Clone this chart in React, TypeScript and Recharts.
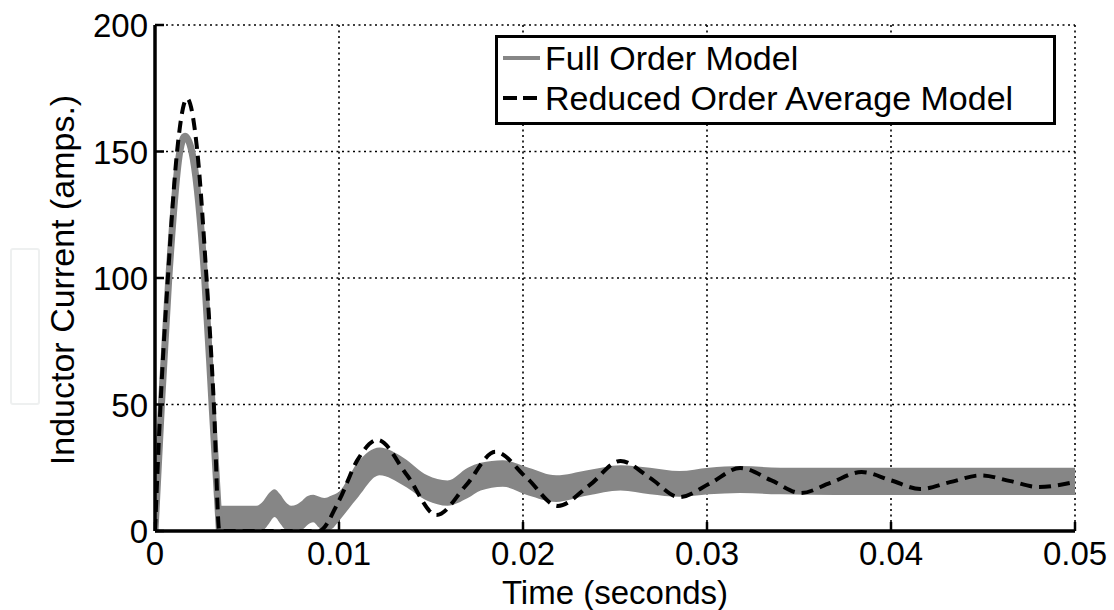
import {
  Area,
  CartesianGrid,
  ComposedChart,
  Line,
  XAxis,
  YAxis,
} from "recharts";

const FONT = '"Liberation Sans", Arial, Helvetica, sans-serif';

// axis ticks
const xTicks = [0, 0.01, 0.02, 0.03, 0.04, 0.05];
const xTickLabels = ["0", "0.01", "0.02", "0.03", "0.04", "0.05"];
const yTicks = [0, 50, 100, 150, 200];
const yTickLabels = ["0", "50", "100", "150", "200"];

// Reduced Order Average Model (dashed)
const reducedTime = [
  0, 0.0003, 0.0007, 0.0012, 0.00174, 0.0023, 0.0028, 0.0032, 0.0035, 0.0089,
  0.01, 0.011, 0.0121, 0.0137, 0.0153, 0.0169, 0.0185, 0.0202, 0.0219, 0.0236,
  0.0253, 0.0269, 0.0285, 0.0302, 0.0318, 0.0335, 0.0351, 0.0367, 0.0384, 0.04,
  0.0416, 0.0432, 0.0449, 0.0465, 0.048, 0.05,
];
const reducedCurrent = [
  0, 50, 100, 150, 171, 150, 100, 50, 0, 0,
  12, 28, 36, 22, 6.3, 18, 31.3, 21, 9.9, 18,
  27.7, 21, 13.4, 19, 24.9, 20, 15, 19, 23.3, 20,
  16.6, 19.3, 22, 19.7, 17.4, 19.4,
];

// Full Order Model, start-up spike (thick gray line)
const fullSpikeTime = [0, 0.00035, 0.00075, 0.00135, 0.00163, 0.002, 0.0027, 0.0031, 0.0035];
const fullSpikeCurrent = [0, 50, 100, 150, 156, 150, 100, 50, 0];

// Full Order Model, switching ripple envelope (gray band)
const fullBandTime = [
  0.0035, 0.0055, 0.0059, 0.0062, 0.0065, 0.0068, 0.0071, 0.0074, 0.0077, 0.008,
  0.0083, 0.0086, 0.0089, 0.0092, 0.0096, 0.01, 0.011, 0.0122, 0.0135, 0.0148,
  0.0159, 0.017, 0.0177, 0.0189, 0.0203, 0.0218, 0.0235, 0.0253, 0.0269, 0.0285,
  0.0301, 0.0318, 0.034, 0.037, 0.04, 0.045, 0.05,
];
const fullBandLow = [
  0, 0, 0.5, 3, 5.5, 3, 0.5, 0, 0, 0.5,
  2.5, 3.5, 1.5, 0, 0.8, 4, 13, 22, 18, 12,
  10, 13, 16, 17.5, 14, 11.5, 14, 16, 14.5, 13.5,
  14.5, 15, 14.5, 14.2, 14.2, 14.2, 14.2,
];
const fullBandHigh = [
  10, 10, 12, 15, 16.5, 14.5, 11.5, 10, 10.5, 12,
  13.8, 14.3, 13.6, 13, 14, 15.5, 27, 33, 29, 22,
  20, 25, 27, 28, 25, 22, 24, 26, 25, 23.7,
  25, 25.7, 25, 25, 25, 25, 25,
];

const reducedData = reducedTime.map((t, i) => ({ t, value: reducedCurrent[i] }));
const spikeData = fullSpikeTime.map((t, i) => ({ t, value: fullSpikeCurrent[i] }));
const bandData = fullBandTime.map((t, i) => ({
  t,
  range: [fullBandLow[i], fullBandHigh[i]],
}));

const GRAY = "#868686";
const AXIS = { stroke: "#000", strokeWidth: 3.5 };

const BottomTick = (props: any) => {
  const { x, y, index } = props;
  return (
    <g>
      <line x1={x} y1={y} x2={x} y2={y - 9} stroke="#000" strokeWidth={2.5} />
      <text x={x} y={y + 34} textAnchor="middle" fontSize={33} fontFamily={FONT} fill="#000">
        {xTickLabels[index]}
      </text>
    </g>
  );
};

const LeftTick = (props: any) => {
  const { x, y, index } = props;
  return (
    <g>
      <line x1={x} y1={y} x2={x + 9} y2={y} stroke="#000" strokeWidth={2.5} />
      <text x={x - 7} y={y + 12} textAnchor="end" fontSize={33} fontFamily={FONT} fill="#000">
        {yTickLabels[index]}
      </text>
    </g>
  );
};

const TopTick = (props: any) => (
  <line x1={props.x} y1={props.y} x2={props.x} y2={props.y + 9} stroke="#000" strokeWidth={2.5} />
);

const RightTick = (props: any) => (
  <line x1={props.x} y1={props.y} x2={props.x - 9} y2={props.y} stroke="#000" strokeWidth={2.5} />
);

export default function App() {
  return (
    <div style={{ position: "absolute", left: 0, top: 0, width: 1114, height: 610, background: "#fff" }}>
      <ComposedChart width={1114} height={610} margin={{ top: 25, right: 39, left: 0, bottom: 0 }}>
        <CartesianGrid
          stroke="#000"
          strokeWidth={1.6}
          strokeDasharray="2 3.5"
          horizontalValues={yTicks}
          verticalValues={xTicks}
        />
        <XAxis
          dataKey="t"
          type="number"
          domain={[0, 0.05]}
          ticks={xTicks}
          allowDataOverflow
          height={79}
          tickSize={0}
          tickMargin={0}
          axisLine={AXIS}
          tick={<BottomTick />}
          interval={0}
          label={{
            content: () => (
              <text x={615} y={604} textAnchor="middle" fontSize={33} fontFamily={FONT} fill="#000">
                Time (seconds)
              </text>
            ),
          }}
        />
        <XAxis
          xAxisId="top"
          orientation="top"
          dataKey="t"
          type="number"
          domain={[0, 0.05]}
          ticks={xTicks}
          allowDataOverflow
          height={0}
          tickSize={0}
          tickMargin={0}
          axisLine={AXIS}
          tick={<TopTick />}
          interval={0}
        />
        <YAxis
          type="number"
          domain={[0, 200]}
          ticks={yTicks}
          allowDataOverflow
          width={155}
          tickSize={0}
          tickMargin={0}
          axisLine={AXIS}
          tick={<LeftTick />}
          interval={0}
          label={{
            content: () => (
              <text
                x={74}
                y={280}
                transform="rotate(-90 74 280)"
                textAnchor="middle"
                fontSize={34}
                fontFamily={FONT}
                fill="#000"
              >
                Inductor Current (amps.)
              </text>
            ),
          }}
        />
        <YAxis
          yAxisId="right"
          orientation="right"
          type="number"
          domain={[0, 200]}
          ticks={yTicks}
          allowDataOverflow
          width={0}
          tickSize={0}
          tickMargin={0}
          axisLine={AXIS}
          tick={<RightTick />}
          interval={0}
        />

        <Area
          data={bandData}
          dataKey="range"
          type="monotone"
          stroke="none"
          fill={GRAY}
          fillOpacity={1}
          isAnimationActive={false}
          dot={false}
          activeDot={false}
        />
        <Line
          data={spikeData}
          dataKey="value"
          type="monotone"
          stroke={GRAY}
          strokeWidth={7}
          dot={false}
          activeDot={false}
          isAnimationActive={false}
        />
        <Line
          data={reducedData}
          dataKey="value"
          type="monotone"
          stroke="#000"
          strokeWidth={4}
          strokeDasharray="12 7"
          dot={false}
          activeDot={false}
          isAnimationActive={false}
        />
      </ComposedChart>

      {/* legend */}
      <div
        style={{
          position: "absolute",
          left: 495,
          top: 35,
          width: 561,
          height: 90,
          boxSizing: "border-box",
          border: "3px solid #000",
          background: "#fff",
          fontFamily: FONT,
          fontSize: 34,
          color: "#000",
        }}
      >
        <div style={{ display: "flex", alignItems: "center", height: 40 }}>
          <svg width={47} height={40}>
            <line x1={5} y1={20} x2={42} y2={20} stroke={GRAY} strokeWidth={4} />
          </svg>
          <span style={{ lineHeight: "40px" }}>Full Order Model</span>
        </div>
        <div style={{ display: "flex", alignItems: "center", height: 40 }}>
          <svg width={47} height={40}>
            <line x1={5} y1={20} x2={42} y2={20} stroke="#000" strokeWidth={4} strokeDasharray="14 6" />
          </svg>
          <span style={{ lineHeight: "40px" }}>Reduced Order Average Model</span>
        </div>
      </div>

      {/* faint box at the left margin of the scan */}
      <div
        style={{
          position: "absolute",
          left: 10,
          top: 248,
          width: 30,
          height: 157,
          boxSizing: "border-box",
          border: "2px solid #eef0f0",
          borderRadius: 3,
        }}
      />
    </div>
  );
}
